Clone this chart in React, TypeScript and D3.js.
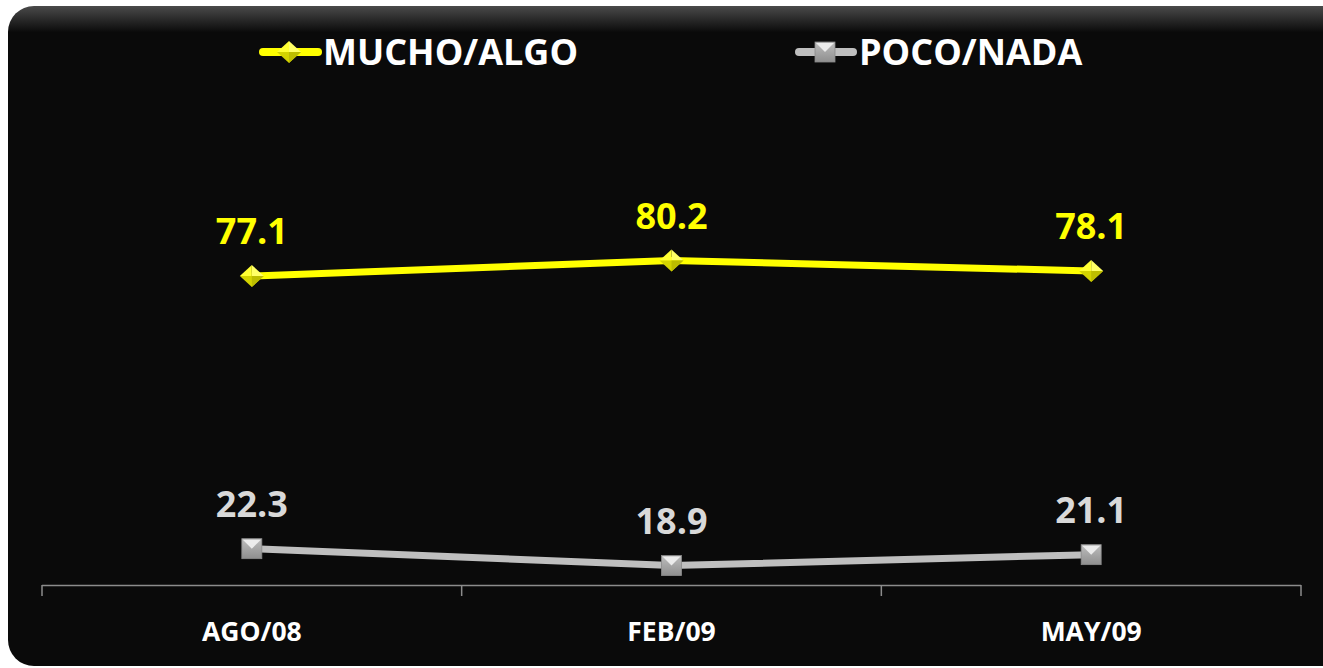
import React from "react";
import * as d3 from "d3";

const categories = ["AGO/08", "FEB/09", "MAY/09"];
const muchoAlgo = [77.1, 80.2, 78.1];
const pocoNada = [22.3, 18.9, 21.1];
const seriesNames = ["MUCHO/ALGO", "POCO/NADA"];

const W = 1323;
const H = 668;
const FONT = "'Open Sans', 'DejaVu Sans', sans-serif";

export default function App() {
  const x = d3.scaleBand<string>().domain(categories).range([42, 1301]).padding(0);
  const y = d3.scaleLinear().domain([15, 100]).range([585, 162]);
  const cx = (c: string) => (x(c) ?? 0) + x.bandwidth() / 2;

  const line = d3
    .line<number>()
    .x((_, i) => cx(categories[i]))
    .y((v) => y(v));

  const ticks = [...categories.map((c) => x(c) ?? 0), 1301];

  const Diamond = ({ px, py }: { px: number; py: number }) => (
    <g transform={`translate(${px},${py})`}>
      <path d="M0,-11 L12,0 L0,0 Z" fill="#ffff66" />
      <path d="M0,-11 L-12,0 L0,0 Z" fill="#ffff33" />
      <path d="M-12,0 L12,0 L0,11 Z" fill="#d4d400" />
      <path d="M0,0 L12,0 L0,11 Z" fill="#bdbd00" />
    </g>
  );

  const Square = ({ px, py }: { px: number; py: number }) => (
    <g transform={`translate(${px},${py})`}>
      <rect x={-10} y={-10} width={20} height={20} fill="url(#sqGrad)" stroke="#8a8a8a" strokeWidth={0.8} />
      <path d="M-9,-9 L9,-9 L0,0 Z" fill="#f2f2f2" opacity={0.9} />
    </g>
  );

  return (
    <svg
      width={W}
      height={H}
      style={{ position: "absolute", left: 0, top: 0, background: "#ffffff" }}
      fontFamily={FONT}
    >
      <defs>
        <linearGradient id="bgGrad" x1="0" y1="0" x2="0" y2="1">
          <stop offset="0" stopColor="#4a4a4a" />
          <stop offset="0.04" stopColor="#0a0a0a" />
          <stop offset="1" stopColor="#0a0a0a" />
        </linearGradient>
        <linearGradient id="sqGrad" x1="0" y1="0" x2="0" y2="1">
          <stop offset="0" stopColor="#bdbdbd" />
          <stop offset="1" stopColor="#8f8f8f" />
        </linearGradient>
      </defs>
      <rect x={8} y={6} width={1340} height={660} rx={26} ry={26} fill="url(#bgGrad)" />

      {/* Legend */}
      <g>
        <line x1={263} x2={318} y1={52} y2={52} stroke="#ffff00" strokeWidth={8} strokeLinecap="round" />
        <Diamond px={289} py={52} />
        <text x={323} y={65} fill="#ffffff" fontSize={36} fontWeight="bold">
          {seriesNames[0]}
        </text>
        <line x1={799} x2={853} y1={52} y2={52} stroke="#bfbfbf" strokeWidth={8} strokeLinecap="round" />
        <Square px={825} py={52} />
        <text x={859} y={65} fill="#ffffff" fontSize={36} fontWeight="bold">
          {seriesNames[1]}
        </text>
      </g>

      {/* Axis */}
      <line x1={42} x2={1301} y1={585.5} y2={585.5} stroke="#8c8c8c" strokeWidth={1.5} />
      {ticks.map((t, i) => (
        <line key={i} x1={t} x2={t} y1={585} y2={596} stroke="#8c8c8c" strokeWidth={1.5} />
      ))}
      {categories.map((c) => (
        <text key={c} x={cx(c)} y={641} textAnchor="middle" fill="#ffffff" fontSize={26.5} fontWeight="bold">
          {c}
        </text>
      ))}

      {/* Lines */}
      <path d={line(muchoAlgo) ?? ""} fill="none" stroke="#ffff00" strokeWidth={7} strokeLinejoin="round" />
      <path d={line(pocoNada) ?? ""} fill="none" stroke="#bfbfbf" strokeWidth={7} strokeLinejoin="round" />

      {muchoAlgo.map((v, i) => (
        <g key={"m" + i}>
          <Diamond px={cx(categories[i])} py={y(v)} />
          <text x={cx(categories[i])} y={y(v) - 32} textAnchor="middle" fill="#ffff00" fontSize={36} fontWeight="bold">
            {v.toFixed(1)}
          </text>
        </g>
      ))}
      {pocoNada.map((v, i) => (
        <g key={"p" + i}>
          <Square px={cx(categories[i])} py={y(v)} />
          <text x={cx(categories[i])} y={y(v) - 32} textAnchor="middle" fill="#d9d9d9" fontSize={36} fontWeight="bold">
            {v.toFixed(1)}
          </text>
        </g>
      ))}
    </svg>
  );
}
